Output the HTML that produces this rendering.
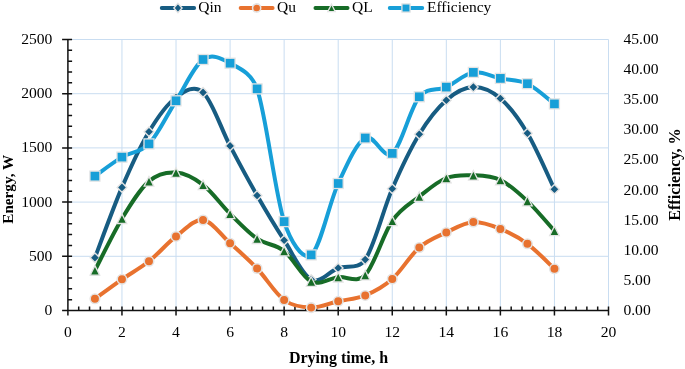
<!DOCTYPE html><html><head><meta charset="utf-8"><style>html,body{margin:0;padding:0;background:#fff;}body{width:685px;height:369px;overflow:hidden;}svg{display:block;will-change:transform;}text{font-family:"Liberation Serif",serif;fill:#000;}</style></head><body>
<svg width="685" height="369" viewBox="0 0 685 369">
<rect width="685" height="369" fill="#fff"/>
<path d="M67.90 256.30 H608.50 M67.90 202.10 H608.50 M67.90 147.90 H608.50 M67.90 93.70 H608.50 M67.90 39.50 H608.50 M121.96 39.50 V310.50 M176.02 39.50 V310.50 M230.08 39.50 V310.50 M284.14 39.50 V310.50 M338.20 39.50 V310.50 M392.26 39.50 V310.50 M446.32 39.50 V310.50 M500.38 39.50 V310.50 M554.44 39.50 V310.50 M608.50 39.50 V310.50" stroke="#c9ddf1" stroke-width="1" fill="none"/>
<path d="M67.90 39.50 V315.50 M62.10 310.50 H608.50 M62.10 310.50 H72.10 M62.10 256.30 H72.10 M62.10 202.10 H72.10 M62.10 147.90 H72.10 M62.10 93.70 H72.10 M62.10 39.50 H72.10 M67.90 310.50 H72.10 M67.90 299.66 H72.10 M67.90 288.82 H72.10 M67.90 277.98 H72.10 M67.90 267.14 H72.10 M67.90 256.30 H72.10 M67.90 245.46 H72.10 M67.90 234.62 H72.10 M67.90 223.78 H72.10 M67.90 212.94 H72.10 M67.90 202.10 H72.10 M67.90 191.26 H72.10 M67.90 180.42 H72.10 M67.90 169.58 H72.10 M67.90 158.74 H72.10 M67.90 147.90 H72.10 M67.90 137.06 H72.10 M67.90 126.22 H72.10 M67.90 115.38 H72.10 M67.90 104.54 H72.10 M67.90 93.70 H72.10 M67.90 82.86 H72.10 M67.90 72.02 H72.10 M67.90 61.18 H72.10 M67.90 50.34 H72.10 M67.90 39.50 H72.10 M67.90 306.50 V315.50 M121.96 306.50 V315.50 M176.02 306.50 V315.50 M230.08 306.50 V315.50 M284.14 306.50 V315.50 M338.20 306.50 V315.50 M392.26 306.50 V315.50 M446.32 306.50 V315.50 M500.38 306.50 V315.50 M554.44 306.50 V315.50 M608.50 306.50 V315.50 M67.90 306.50 V310.50 M78.71 306.50 V310.50 M89.52 306.50 V310.50 M100.34 306.50 V310.50 M111.15 306.50 V310.50 M121.96 306.50 V310.50 M132.77 306.50 V310.50 M143.58 306.50 V310.50 M154.40 306.50 V310.50 M165.21 306.50 V310.50 M176.02 306.50 V310.50 M186.83 306.50 V310.50 M197.64 306.50 V310.50 M208.46 306.50 V310.50 M219.27 306.50 V310.50 M230.08 306.50 V310.50 M240.89 306.50 V310.50 M251.70 306.50 V310.50 M262.52 306.50 V310.50 M273.33 306.50 V310.50 M284.14 306.50 V310.50 M294.95 306.50 V310.50 M305.76 306.50 V310.50 M316.58 306.50 V310.50 M327.39 306.50 V310.50 M338.20 306.50 V310.50 M349.01 306.50 V310.50 M359.82 306.50 V310.50 M370.64 306.50 V310.50 M381.45 306.50 V310.50 M392.26 306.50 V310.50 M403.07 306.50 V310.50 M413.88 306.50 V310.50 M424.70 306.50 V310.50 M435.51 306.50 V310.50 M446.32 306.50 V310.50 M457.13 306.50 V310.50 M467.94 306.50 V310.50 M478.76 306.50 V310.50 M489.57 306.50 V310.50 M500.38 306.50 V310.50 M511.19 306.50 V310.50 M522.00 306.50 V310.50 M532.82 306.50 V310.50 M543.63 306.50 V310.50 M554.44 306.50 V310.50 M565.25 306.50 V310.50 M576.06 306.50 V310.50 M586.88 306.50 V310.50 M597.69 306.50 V310.50 M608.50 306.50 V310.50" stroke="#111" stroke-width="1.5" fill="none"/>
<path d="M94.93 257.70 C99.44 245.98 112.95 208.40 121.96 187.40 C130.97 166.40 139.98 146.68 148.99 131.70 C158.00 116.72 167.01 104.05 176.02 97.50 C185.03 90.95 194.04 84.33 203.05 92.40 C212.06 100.47 221.07 128.72 230.08 145.90 C239.09 163.08 248.10 179.78 257.11 195.50 C266.12 211.22 275.13 226.20 284.14 240.20 C293.15 254.20 302.16 274.87 311.17 279.50 C320.18 284.13 329.19 271.32 338.20 268.00 C347.21 264.68 358.05 270.12 365.23 259.60 C374.24 246.40 383.25 209.70 392.26 188.80 C401.27 167.90 410.28 148.97 419.29 134.20 C428.30 119.43 437.31 108.05 446.32 100.20 C455.33 92.35 464.34 87.38 473.35 87.10 C482.36 86.82 491.37 90.82 500.38 98.50 C509.39 106.18 518.40 118.08 527.41 133.20 C536.42 148.32 549.94 179.87 554.44 189.20" stroke="#175c82" stroke-width="4.00" fill="none" stroke-linecap="round" stroke-linejoin="round"/>
<path d="M94.93 252.90 L99.73 257.70 L94.93 262.50 L90.13 257.70 Z" fill="#175c82" stroke="#e4e4e4" stroke-width="1.4"/>
<path d="M121.96 182.60 L126.76 187.40 L121.96 192.20 L117.16 187.40 Z" fill="#175c82" stroke="#e4e4e4" stroke-width="1.4"/>
<path d="M148.99 126.90 L153.79 131.70 L148.99 136.50 L144.19 131.70 Z" fill="#175c82" stroke="#e4e4e4" stroke-width="1.4"/>
<path d="M176.02 92.70 L180.82 97.50 L176.02 102.30 L171.22 97.50 Z" fill="#175c82" stroke="#e4e4e4" stroke-width="1.4"/>
<path d="M203.05 87.60 L207.85 92.40 L203.05 97.20 L198.25 92.40 Z" fill="#175c82" stroke="#e4e4e4" stroke-width="1.4"/>
<path d="M230.08 141.10 L234.88 145.90 L230.08 150.70 L225.28 145.90 Z" fill="#175c82" stroke="#e4e4e4" stroke-width="1.4"/>
<path d="M257.11 190.70 L261.91 195.50 L257.11 200.30 L252.31 195.50 Z" fill="#175c82" stroke="#e4e4e4" stroke-width="1.4"/>
<path d="M284.14 235.40 L288.94 240.20 L284.14 245.00 L279.34 240.20 Z" fill="#175c82" stroke="#e4e4e4" stroke-width="1.4"/>
<path d="M311.17 274.70 L315.97 279.50 L311.17 284.30 L306.37 279.50 Z" fill="#175c82" stroke="#e4e4e4" stroke-width="1.4"/>
<path d="M338.20 263.20 L343.00 268.00 L338.20 272.80 L333.40 268.00 Z" fill="#175c82" stroke="#e4e4e4" stroke-width="1.4"/>
<path d="M365.23 254.80 L370.03 259.60 L365.23 264.40 L360.43 259.60 Z" fill="#175c82" stroke="#e4e4e4" stroke-width="1.4"/>
<path d="M392.26 184.00 L397.06 188.80 L392.26 193.60 L387.46 188.80 Z" fill="#175c82" stroke="#e4e4e4" stroke-width="1.4"/>
<path d="M419.29 129.40 L424.09 134.20 L419.29 139.00 L414.49 134.20 Z" fill="#175c82" stroke="#e4e4e4" stroke-width="1.4"/>
<path d="M446.32 95.40 L451.12 100.20 L446.32 105.00 L441.52 100.20 Z" fill="#175c82" stroke="#e4e4e4" stroke-width="1.4"/>
<path d="M473.35 82.30 L478.15 87.10 L473.35 91.90 L468.55 87.10 Z" fill="#175c82" stroke="#e4e4e4" stroke-width="1.4"/>
<path d="M500.38 93.70 L505.18 98.50 L500.38 103.30 L495.58 98.50 Z" fill="#175c82" stroke="#e4e4e4" stroke-width="1.4"/>
<path d="M527.41 128.40 L532.21 133.20 L527.41 138.00 L522.61 133.20 Z" fill="#175c82" stroke="#e4e4e4" stroke-width="1.4"/>
<path d="M554.44 184.40 L559.24 189.20 L554.44 194.00 L549.64 189.20 Z" fill="#175c82" stroke="#e4e4e4" stroke-width="1.4"/>
<path d="M94.93 298.80 C99.44 295.55 112.95 285.55 121.96 279.30 C130.97 273.05 139.98 268.45 148.99 261.30 C158.00 254.15 167.01 243.28 176.02 236.40 C185.03 229.52 194.04 218.87 203.05 220.00 C212.06 221.13 221.07 235.12 230.08 243.20 C239.09 251.28 248.10 259.03 257.11 268.50 C266.12 277.97 275.13 293.48 284.14 300.00 C293.15 306.52 302.16 307.38 311.17 307.60 C320.18 307.82 329.19 303.33 338.20 301.30 C347.21 299.27 356.22 299.12 365.23 295.40 C374.24 291.68 383.25 286.98 392.26 279.00 C401.27 271.02 410.28 255.27 419.29 247.50 C428.30 239.73 437.31 236.65 446.32 232.40 C455.33 228.15 464.34 222.58 473.35 222.00 C482.36 221.42 491.37 225.27 500.38 228.90 C509.39 232.53 518.40 237.15 527.41 243.80 C536.42 250.45 549.94 264.63 554.44 268.80" stroke="#e8722f" stroke-width="4.00" fill="none" stroke-linecap="round" stroke-linejoin="round"/>
<circle cx="94.93" cy="298.80" r="4.75" fill="#e8722f" stroke="#e4e4e4" stroke-width="1.55"/>
<circle cx="121.96" cy="279.30" r="4.75" fill="#e8722f" stroke="#e4e4e4" stroke-width="1.55"/>
<circle cx="148.99" cy="261.30" r="4.75" fill="#e8722f" stroke="#e4e4e4" stroke-width="1.55"/>
<circle cx="176.02" cy="236.40" r="4.75" fill="#e8722f" stroke="#e4e4e4" stroke-width="1.55"/>
<circle cx="203.05" cy="220.00" r="4.75" fill="#e8722f" stroke="#e4e4e4" stroke-width="1.55"/>
<circle cx="230.08" cy="243.20" r="4.75" fill="#e8722f" stroke="#e4e4e4" stroke-width="1.55"/>
<circle cx="257.11" cy="268.50" r="4.75" fill="#e8722f" stroke="#e4e4e4" stroke-width="1.55"/>
<circle cx="284.14" cy="300.00" r="4.75" fill="#e8722f" stroke="#e4e4e4" stroke-width="1.55"/>
<circle cx="311.17" cy="307.60" r="4.75" fill="#e8722f" stroke="#e4e4e4" stroke-width="1.55"/>
<circle cx="338.20" cy="301.30" r="4.75" fill="#e8722f" stroke="#e4e4e4" stroke-width="1.55"/>
<circle cx="365.23" cy="295.40" r="4.75" fill="#e8722f" stroke="#e4e4e4" stroke-width="1.55"/>
<circle cx="392.26" cy="279.00" r="4.75" fill="#e8722f" stroke="#e4e4e4" stroke-width="1.55"/>
<circle cx="419.29" cy="247.50" r="4.75" fill="#e8722f" stroke="#e4e4e4" stroke-width="1.55"/>
<circle cx="446.32" cy="232.40" r="4.75" fill="#e8722f" stroke="#e4e4e4" stroke-width="1.55"/>
<circle cx="473.35" cy="222.00" r="4.75" fill="#e8722f" stroke="#e4e4e4" stroke-width="1.55"/>
<circle cx="500.38" cy="228.90" r="4.75" fill="#e8722f" stroke="#e4e4e4" stroke-width="1.55"/>
<circle cx="527.41" cy="243.80" r="4.75" fill="#e8722f" stroke="#e4e4e4" stroke-width="1.55"/>
<circle cx="554.44" cy="268.80" r="4.75" fill="#e8722f" stroke="#e4e4e4" stroke-width="1.55"/>
<path d="M94.93 270.40 C99.44 261.78 112.95 233.55 121.96 218.70 C130.97 203.85 139.98 188.98 148.99 181.30 C158.00 173.62 167.01 172.00 176.02 172.60 C185.03 173.20 194.04 178.03 203.05 184.90 C212.06 191.77 221.07 204.83 230.08 213.80 C239.09 222.77 248.10 232.50 257.11 238.70 C266.12 244.90 275.13 243.87 284.14 251.00 C293.15 258.13 302.16 277.13 311.17 281.50 C320.18 285.87 329.19 278.27 338.20 277.20 C347.21 276.13 356.78 283.90 365.23 275.10 C374.24 265.72 383.25 233.98 392.26 220.90 C401.27 207.82 410.28 203.75 419.29 196.60 C428.30 189.45 437.31 181.55 446.32 178.00 C455.33 174.45 464.34 174.97 473.35 175.30 C482.36 175.63 491.37 175.70 500.38 180.00 C509.39 184.30 518.40 192.62 527.41 201.10 C536.42 209.58 549.94 225.93 554.44 230.90" stroke="#176c27" stroke-width="4.00" fill="none" stroke-linecap="round" stroke-linejoin="round"/>
<path d="M94.93 265.60 L99.73 275.20 L90.13 275.20 Z" fill="#176c27" stroke="#e4e4e4" stroke-width="1.3"/>
<path d="M121.96 213.90 L126.76 223.50 L117.16 223.50 Z" fill="#176c27" stroke="#e4e4e4" stroke-width="1.3"/>
<path d="M148.99 176.50 L153.79 186.10 L144.19 186.10 Z" fill="#176c27" stroke="#e4e4e4" stroke-width="1.3"/>
<path d="M176.02 167.80 L180.82 177.40 L171.22 177.40 Z" fill="#176c27" stroke="#e4e4e4" stroke-width="1.3"/>
<path d="M203.05 180.10 L207.85 189.70 L198.25 189.70 Z" fill="#176c27" stroke="#e4e4e4" stroke-width="1.3"/>
<path d="M230.08 209.00 L234.88 218.60 L225.28 218.60 Z" fill="#176c27" stroke="#e4e4e4" stroke-width="1.3"/>
<path d="M257.11 233.90 L261.91 243.50 L252.31 243.50 Z" fill="#176c27" stroke="#e4e4e4" stroke-width="1.3"/>
<path d="M284.14 246.20 L288.94 255.80 L279.34 255.80 Z" fill="#176c27" stroke="#e4e4e4" stroke-width="1.3"/>
<path d="M311.17 276.70 L315.97 286.30 L306.37 286.30 Z" fill="#176c27" stroke="#e4e4e4" stroke-width="1.3"/>
<path d="M338.20 272.40 L343.00 282.00 L333.40 282.00 Z" fill="#176c27" stroke="#e4e4e4" stroke-width="1.3"/>
<path d="M365.23 270.30 L370.03 279.90 L360.43 279.90 Z" fill="#176c27" stroke="#e4e4e4" stroke-width="1.3"/>
<path d="M392.26 216.10 L397.06 225.70 L387.46 225.70 Z" fill="#176c27" stroke="#e4e4e4" stroke-width="1.3"/>
<path d="M419.29 191.80 L424.09 201.40 L414.49 201.40 Z" fill="#176c27" stroke="#e4e4e4" stroke-width="1.3"/>
<path d="M446.32 173.20 L451.12 182.80 L441.52 182.80 Z" fill="#176c27" stroke="#e4e4e4" stroke-width="1.3"/>
<path d="M473.35 170.50 L478.15 180.10 L468.55 180.10 Z" fill="#176c27" stroke="#e4e4e4" stroke-width="1.3"/>
<path d="M500.38 175.20 L505.18 184.80 L495.58 184.80 Z" fill="#176c27" stroke="#e4e4e4" stroke-width="1.3"/>
<path d="M527.41 196.30 L532.21 205.90 L522.61 205.90 Z" fill="#176c27" stroke="#e4e4e4" stroke-width="1.3"/>
<path d="M554.44 226.10 L559.24 235.70 L549.64 235.70 Z" fill="#176c27" stroke="#e4e4e4" stroke-width="1.3"/>
<path d="M94.93 176.10 C99.44 172.93 112.95 162.47 121.96 157.10 C130.97 151.73 139.98 153.28 148.99 143.90 C158.00 134.52 167.01 114.87 176.02 100.80 C185.03 86.73 194.04 65.77 203.05 59.50 C212.06 53.23 221.07 58.30 230.08 63.20 C239.09 68.10 251.69 73.02 257.11 88.90 C266.12 115.30 275.13 193.93 284.14 221.60 C290.12 239.95 302.16 261.25 311.17 254.90 C320.18 248.55 329.19 202.98 338.20 183.50 C347.21 164.02 356.22 143.02 365.23 138.00 C374.24 132.98 383.25 160.27 392.26 153.40 C401.27 146.53 410.28 107.85 419.29 96.80 C427.46 86.78 437.31 91.17 446.32 87.10 C455.33 83.03 464.34 73.85 473.35 72.40 C482.36 70.95 491.37 76.52 500.38 78.40 C509.39 80.28 518.40 79.45 527.41 83.70 C536.42 87.95 549.94 100.53 554.44 103.90" stroke="#179fd8" stroke-width="4.00" fill="none" stroke-linecap="round" stroke-linejoin="round"/>
<rect x="89.93" y="171.10" width="10.00" height="10.00" fill="#179fd8" stroke="#e4e4e4" stroke-width="1.3"/>
<rect x="116.96" y="152.10" width="10.00" height="10.00" fill="#179fd8" stroke="#e4e4e4" stroke-width="1.3"/>
<rect x="143.99" y="138.90" width="10.00" height="10.00" fill="#179fd8" stroke="#e4e4e4" stroke-width="1.3"/>
<rect x="171.02" y="95.80" width="10.00" height="10.00" fill="#179fd8" stroke="#e4e4e4" stroke-width="1.3"/>
<rect x="198.05" y="54.50" width="10.00" height="10.00" fill="#179fd8" stroke="#e4e4e4" stroke-width="1.3"/>
<rect x="225.08" y="58.20" width="10.00" height="10.00" fill="#179fd8" stroke="#e4e4e4" stroke-width="1.3"/>
<rect x="252.11" y="83.90" width="10.00" height="10.00" fill="#179fd8" stroke="#e4e4e4" stroke-width="1.3"/>
<rect x="279.14" y="216.60" width="10.00" height="10.00" fill="#179fd8" stroke="#e4e4e4" stroke-width="1.3"/>
<rect x="306.17" y="249.90" width="10.00" height="10.00" fill="#179fd8" stroke="#e4e4e4" stroke-width="1.3"/>
<rect x="333.20" y="178.50" width="10.00" height="10.00" fill="#179fd8" stroke="#e4e4e4" stroke-width="1.3"/>
<rect x="360.23" y="133.00" width="10.00" height="10.00" fill="#179fd8" stroke="#e4e4e4" stroke-width="1.3"/>
<rect x="387.26" y="148.40" width="10.00" height="10.00" fill="#179fd8" stroke="#e4e4e4" stroke-width="1.3"/>
<rect x="414.29" y="91.80" width="10.00" height="10.00" fill="#179fd8" stroke="#e4e4e4" stroke-width="1.3"/>
<rect x="441.32" y="82.10" width="10.00" height="10.00" fill="#179fd8" stroke="#e4e4e4" stroke-width="1.3"/>
<rect x="468.35" y="67.40" width="10.00" height="10.00" fill="#179fd8" stroke="#e4e4e4" stroke-width="1.3"/>
<rect x="495.38" y="73.40" width="10.00" height="10.00" fill="#179fd8" stroke="#e4e4e4" stroke-width="1.3"/>
<rect x="522.41" y="78.70" width="10.00" height="10.00" fill="#179fd8" stroke="#e4e4e4" stroke-width="1.3"/>
<rect x="549.44" y="98.90" width="10.00" height="10.00" fill="#179fd8" stroke="#e4e4e4" stroke-width="1.3"/>
<text x="52.40" y="315.00" font-size="15.60" text-anchor="end">0</text>
<text x="52.40" y="260.80" font-size="15.60" text-anchor="end">500</text>
<text x="52.40" y="206.60" font-size="15.60" text-anchor="end">1000</text>
<text x="52.40" y="152.40" font-size="15.60" text-anchor="end">1500</text>
<text x="52.40" y="98.20" font-size="15.60" text-anchor="end">2000</text>
<text x="52.40" y="44.00" font-size="15.60" text-anchor="end">2500</text>
<text x="623.40" y="315.00" font-size="15.60">0.00</text>
<text x="623.40" y="284.89" font-size="15.60">5.00</text>
<text x="623.40" y="254.78" font-size="15.60">10.00</text>
<text x="623.40" y="224.67" font-size="15.60">15.00</text>
<text x="623.40" y="194.56" font-size="15.60">20.00</text>
<text x="623.40" y="164.44" font-size="15.60">25.00</text>
<text x="623.40" y="134.33" font-size="15.60">30.00</text>
<text x="623.40" y="104.22" font-size="15.60">35.00</text>
<text x="623.40" y="74.11" font-size="15.60">40.00</text>
<text x="623.40" y="44.00" font-size="15.60">45.00</text>
<text x="67.90" y="337.00" font-size="15.60" text-anchor="middle">0</text>
<text x="121.96" y="337.00" font-size="15.60" text-anchor="middle">2</text>
<text x="176.02" y="337.00" font-size="15.60" text-anchor="middle">4</text>
<text x="230.08" y="337.00" font-size="15.60" text-anchor="middle">6</text>
<text x="284.14" y="337.00" font-size="15.60" text-anchor="middle">8</text>
<text x="338.20" y="337.00" font-size="15.60" text-anchor="middle">10</text>
<text x="392.26" y="337.00" font-size="15.60" text-anchor="middle">12</text>
<text x="446.32" y="337.00" font-size="15.60" text-anchor="middle">14</text>
<text x="500.38" y="337.00" font-size="15.60" text-anchor="middle">16</text>
<text x="554.44" y="337.00" font-size="15.60" text-anchor="middle">18</text>
<text x="608.50" y="337.00" font-size="15.60" text-anchor="middle">20</text>
<text x="338.5" y="362.9" font-size="16" font-weight="bold" text-anchor="middle">Drying time, h</text>
<text transform="translate(12.7 189.3) rotate(-90)" font-size="15.2" font-weight="bold" text-anchor="middle">Energy, W</text>
<text transform="translate(679.7 174.5) rotate(-90)" font-size="16.2" font-weight="bold" text-anchor="middle">Efficiency, %</text>
<path d="M161.70 8.00 H194.20" stroke="#175c82" stroke-width="3.80" stroke-linecap="round"/>
<path d="M177.95 3.40 L182.05 8.00 L177.95 12.60 L173.85 8.00 Z" fill="#175c82" stroke="#e4e4e4" stroke-width="1.4"/>
<text x="198.30" y="12.40" font-size="15.50">Qin</text>
<path d="M240.60 8.00 H272.70" stroke="#e8722f" stroke-width="3.80" stroke-linecap="round"/>
<circle cx="256.65" cy="8.00" r="4.10" fill="#e8722f" stroke="#e4e4e4" stroke-width="1.55"/>
<text x="277.00" y="12.40" font-size="15.50">Qu</text>
<path d="M315.40 8.00 H347.60" stroke="#176c27" stroke-width="3.80" stroke-linecap="round"/>
<path d="M331.50 4.30 L335.20 11.70 L327.80 11.70 Z" fill="#176c27" stroke="#e4e4e4" stroke-width="1.3"/>
<text x="352.00" y="12.40" font-size="15.50">QL</text>
<path d="M389.70 8.00 H422.30" stroke="#179fd8" stroke-width="3.80" stroke-linecap="round"/>
<rect x="401.90" y="3.90" width="8.20" height="8.20" fill="#179fd8" stroke="#e4e4e4" stroke-width="1.3"/>
<text x="427.00" y="12.40" font-size="15.50">Efficiency</text>
</svg></body></html>
